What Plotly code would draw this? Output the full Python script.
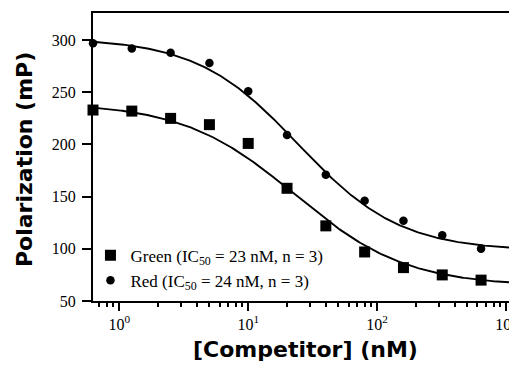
import numpy as np
import plotly.graph_objects as go

# Data
conc_nM = [0.625, 1.25, 2.5, 5, 10, 20, 40, 80, 160, 320, 640, 1280]
green_mP = [233, 232, 225, 219, 201, 158, 122, 97, 82, 75, 70, 68]
red_mP = [297, 292, 288, 278, 251, 209, 171, 146, 127, 113, 100, 104]

# Fitted 4-parameter logistic parameters (top, bottom, IC50 nM, Hill slope)
green_fit = dict(top=240, bottom=64, ic50=23, hill=1.0)
red_fit = dict(top=302, bottom=98, ic50=24.5, hill=1.1)

green_label = "Green (IC<sub>50</sub> = 23 nM, n = 3)"
red_label = "Red (IC<sub>50</sub> = 24 nM, n = 3)"

xtick_vals = [1, 10, 100, 1000]
xtick_text = ["10<sup>0</sup>", "10<sup>1</sup>", "10<sup>2</sup>", "10<sup>3</sup>"]
ytick_vals = [50, 100, 150, 200, 250, 300]

x_title = "[Competitor] (nM)"
y_title = "Polarization (mP)"


def logistic(x, p):
    x = np.asarray(x, dtype=float)
    return p["bottom"] + (p["top"] - p["bottom"]) / (1 + (x / p["ic50"]) ** p["hill"])


xmin_log = np.log10(0.625)
xmax_log = 3.085
xc = np.logspace(xmin_log, 3.2, 300)

fig = go.Figure()
fig.add_trace(go.Scatter(x=xc, y=logistic(xc, green_fit), mode="lines",
                         line=dict(color="black", width=1.9), showlegend=False,
                         hoverinfo="skip"))
fig.add_trace(go.Scatter(x=xc, y=logistic(xc, red_fit), mode="lines",
                         line=dict(color="black", width=1.9), showlegend=False,
                         hoverinfo="skip"))
fig.add_trace(go.Scatter(x=conc_nM, y=green_mP, mode="markers", name=green_label,
                         marker=dict(symbol="square", size=11, color="black"),
                         cliponaxis=False))
fig.add_trace(go.Scatter(x=conc_nM, y=red_mP, mode="markers", name=red_label,
                         marker=dict(symbol="circle", size=8.5, color="black"),
                         cliponaxis=False))

minor_vals = [m * 10 ** d for d in range(-1, 4) for m in range(2, 10)]

title_font = dict(family="DejaVu Sans", size=22, weight="bold", color="black")

fig.update_layout(
    width=509, height=357,
    margin=dict(l=85, r=0, t=5, b=64, autoexpand=False),
    paper_bgcolor="white", plot_bgcolor="white",
    font=dict(family="Liberation Serif", color="black", size=16),
    legend=dict(x=-0.006, y=0.22, xanchor="left", yanchor="top",
                bgcolor="rgba(0,0,0,0)", font=dict(size=17, family="Liberation Serif"),
                tracegroupgap=0, itemsizing="trace"),
    showlegend=True,
    annotations=[
        dict(text=x_title, xref="paper", yref="paper", x=0.502, y=-0.167,
             xanchor="center", yanchor="middle", showarrow=False, font=title_font),
        dict(text=y_title, xref="paper", yref="paper", x=-0.160, y=0.49,
             xanchor="center", yanchor="middle", showarrow=False, textangle=-90,
             font=title_font),
    ],
)
fig.update_xaxes(
    type="log", range=[xmin_log, xmax_log], automargin=False,
    tickvals=xtick_vals, ticktext=xtick_text, ticklabeloverflow="allow",
    ticklabelstandoff=0,
    ticks="outside", ticklen=8, tickwidth=2, tickcolor="black",
    showline=True, linecolor="black", linewidth=2, mirror=True,
    showgrid=False, zeroline=False,
    minor=dict(tickvals=minor_vals, ticks="outside", ticklen=4, tickwidth=1.5,
               tickcolor="black", showgrid=False),
    tickfont=dict(family="Liberation Serif", size=16),
)
fig.update_yaxes(
    range=[50, 326], tickvals=ytick_vals, automargin=False,
    ticklabelstandoff=3,
    ticks="outside", ticklen=9, tickwidth=2, tickcolor="black",
    showline=True, linecolor="black", linewidth=2,
    showgrid=False, zeroline=False,
    tickfont=dict(family="Liberation Serif", size=16),
)

fig.write_html("out.html")
